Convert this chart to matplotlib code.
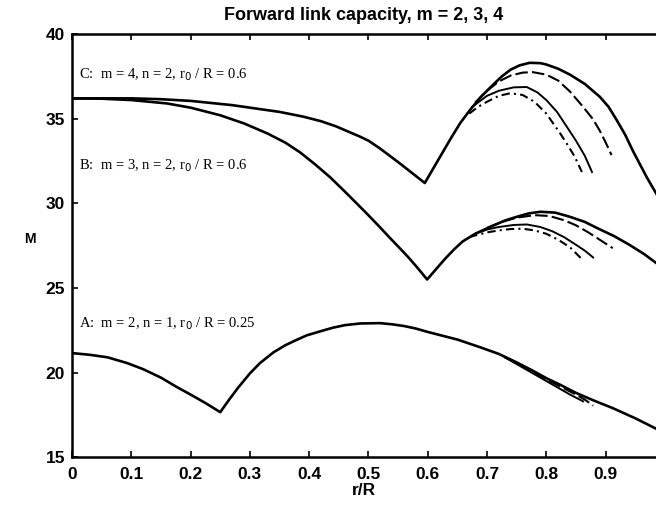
import matplotlib
matplotlib.use("Agg")
import matplotlib.pyplot as plt

# ---- data ----
# Curve A: m=2, n=1, r0/R=0.25
a_x = [0.0, 0.03, 0.06, 0.093, 0.12, 0.15, 0.177, 0.2, 0.225, 0.25, 0.265, 0.28, 0.3, 0.317,
       0.34, 0.36, 0.38, 0.396, 0.42, 0.44, 0.46, 0.486, 0.52, 0.54, 0.56, 0.58, 0.6, 0.65,
       0.688, 0.72, 0.75, 0.775, 0.8, 0.825, 0.85, 0.88, 0.912, 0.95, 0.99]
a_y = [21.15, 21.05, 20.9, 20.56, 20.2, 19.7, 19.14, 18.7, 18.2, 17.66, 18.4, 19.1, 19.95, 20.56,
       21.2, 21.62, 21.95, 22.2, 22.45, 22.65, 22.8, 22.9, 22.92, 22.85, 22.75, 22.6, 22.4, 21.95,
       21.5, 21.1, 20.6, 20.15, 19.67, 19.25, 18.8, 18.35, 17.9, 17.3, 16.6]
a2_x = [0.73, 0.75, 0.775, 0.8, 0.825, 0.85, 0.865, 0.879]
a2_y = [20.9, 20.55, 20.1, 19.6, 19.15, 18.7, 18.4, 18.05]
a3_x = [0.73, 0.75, 0.775, 0.8, 0.82, 0.84, 0.862]
a3_y = [20.9, 20.5, 20.0, 19.5, 19.1, 18.7, 18.3]

# Curve B: m=3, n=2, r0/R=0.6
b_x = [0.0, 0.05, 0.1, 0.16, 0.2, 0.25, 0.29, 0.33, 0.36, 0.385, 0.41, 0.435, 0.46, 0.48,
       0.497, 0.519, 0.535, 0.55, 0.565, 0.58, 0.599, 0.615, 0.63, 0.645, 0.659, 0.68, 0.705,
       0.73, 0.75, 0.77, 0.79, 0.815, 0.84, 0.865, 0.885, 0.915, 0.94, 0.965, 0.99]
b_y = [36.2, 36.18, 36.1, 35.9, 35.65, 35.2, 34.72, 34.12, 33.58, 33.0, 32.3, 31.55, 30.7, 30.0,
       29.4, 28.6, 28.0, 27.45, 26.9, 26.3, 25.5, 26.15, 26.75, 27.3, 27.75, 28.2, 28.6,
       28.98, 29.2, 29.4, 29.5, 29.45, 29.2, 28.9, 28.55, 28.05, 27.55, 27.0, 26.35]
b2_x = [0.7, 0.725, 0.75, 0.78, 0.805, 0.83, 0.85, 0.87, 0.89, 0.912]
b2_y = [28.55, 28.9, 29.15, 29.3, 29.25, 29.0, 28.7, 28.3, 27.85, 27.35]
b3_x = [0.68, 0.7, 0.72, 0.745, 0.767, 0.79, 0.81, 0.83, 0.85, 0.865, 0.879]
b3_y = [28.2, 28.45, 28.6, 28.72, 28.75, 28.6, 28.35, 28.0, 27.55, 27.2, 26.8]
b4_x = [0.67, 0.68, 0.7, 0.72, 0.74, 0.76, 0.78, 0.8, 0.82, 0.84, 0.86]
b4_y = [28.0, 28.1, 28.28, 28.4, 28.48, 28.5, 28.4, 28.2, 27.85, 27.4, 26.7]

# Curve C: m=4, n=2, r0/R=0.6
c_x = [0.0, 0.1, 0.15, 0.2, 0.27, 0.31, 0.35, 0.39, 0.42, 0.445, 0.465, 0.485, 0.5, 0.519, 0.54,
       0.555, 0.575, 0.595, 0.61, 0.62, 0.64, 0.655, 0.671, 0.69, 0.71, 0.725, 0.74, 0.755,
       0.772, 0.79, 0.8, 0.82, 0.84, 0.865, 0.89, 0.905, 0.919, 0.933, 0.946, 0.958, 0.97, 0.99]
c_y = [36.2, 36.2, 36.15, 36.05, 35.8, 35.6, 35.4, 35.12, 34.85, 34.55, 34.25, 33.95, 33.7, 33.25,
       32.7, 32.3, 31.75, 31.2, 32.1, 32.7, 33.9, 34.75, 35.5, 36.3, 37.0, 37.5, 37.9, 38.15,
       38.3, 38.28, 38.2, 37.95, 37.6, 37.05, 36.3, 35.7, 34.9, 34.05, 33.1, 32.3, 31.5, 30.3]
c2_x = [0.68, 0.7, 0.72, 0.74, 0.76, 0.777, 0.8, 0.82, 0.84, 0.862, 0.878, 0.89, 0.9, 0.91]
c2_y = [35.95, 36.65, 37.2, 37.55, 37.72, 37.75, 37.6, 37.25, 36.6, 35.7, 35.0, 34.3, 33.6, 32.85]
c3_x = [0.675, 0.7, 0.72, 0.745, 0.767, 0.785, 0.8, 0.818, 0.835, 0.85, 0.865, 0.877]
c3_y = [35.7, 36.35, 36.65, 36.85, 36.87, 36.55, 36.1, 35.4, 34.5, 33.7, 32.8, 31.85]
c4_x = [0.67, 0.685, 0.7, 0.72, 0.739, 0.76, 0.78, 0.8, 0.823, 0.835, 0.848, 0.86]
c4_y = [35.3, 35.7, 36.0, 36.35, 36.5, 36.4, 36.0, 35.3, 34.15, 33.5, 32.75, 31.85]

x_ticks = [0, 0.1, 0.2, 0.3, 0.4, 0.5, 0.6, 0.7, 0.8, 0.9]
x_tick_labels = ["0", "0.1", "0.2", "0.3", "0.4", "0.5", "0.6", "0.7", "0.8", "0.9"]
y_ticks = [15, 20, 25, 30, 35, 40]

labels = ["A:  m = 2, n = 1, r$_0$ / R = 0.25",
          "B:  m = 3, n = 2, r$_0$ / R = 0.6",
          "C:  m = 4, n = 2, r$_0$ / R = 0.6"]
label_pos = [(0.012, 22.9), (0.012, 32.2), (0.012, 37.6)]

# ---- figure ----
fig = plt.figure(figsize=(6.56, 5.08), dpi=100)
ax = fig.add_axes([0.1098, 0.100, 0.8902, 0.833])

k = "black"
for xs, ys in [(a_x, a_y), (b_x, b_y), (c_x, c_y)]:
    ax.plot(xs, ys, color=k, lw=1.9, solid_joinstyle="round", solid_capstyle="round")
for xs, ys in [(a2_x, a2_y), (b2_x, b2_y), (c2_x, c2_y)]:
    ax.plot(xs, ys, color=k, lw=1.5, ls=(0, (6, 2)))
for xs, ys in [(a3_x, a3_y), (b3_x, b3_y), (c3_x, c3_y)]:
    ax.plot(xs, ys, color=k, lw=1.4, solid_joinstyle="round")
for xs, ys in [(b4_x, b4_y), (c4_x, c4_y)]:
    ax.plot(xs, ys, color=k, lw=1.5, ls=(0, (4, 2, 1, 2)))

ax.set_xlim(0, 0.985)
ax.set_ylim(15, 40)
ax.set_xticks(x_ticks)
ax.set_xticklabels(x_tick_labels)
ax.set_yticks(y_ticks)
ax.tick_params(direction="in", top=True, right=False, length=4, width=1.2,
               labelsize=12.5)
ax.tick_params(axis="x", pad=7)
ax.tick_params(axis="y", pad=5)
for t in ax.get_xticklabels() + ax.get_yticklabels():
    t.set_family("Liberation Sans")
    t.set_fontweight("bold")
for s in ["left", "bottom", "top"]:
    ax.spines[s].set_linewidth(1.8)
ax.spines["right"].set_visible(False)

for (tx, ty), txt in zip(label_pos, labels):
    ax.text(tx, ty, txt, family="Liberation Serif", fontsize=10.5, va="center", ha="left")

ax.set_title("Forward link capacity, m = 2, 3, 4", family="Liberation Sans",
             fontsize=13, fontweight="bold", pad=10)
ax.set_xlabel("r/R", family="Liberation Sans", fontsize=12.5, fontweight="bold", labelpad=1)
ax.set_ylabel("M", family="Liberation Sans", fontsize=10, fontweight="bold",
              rotation=0, labelpad=11)

fig.savefig("out.png", dpi=100)
